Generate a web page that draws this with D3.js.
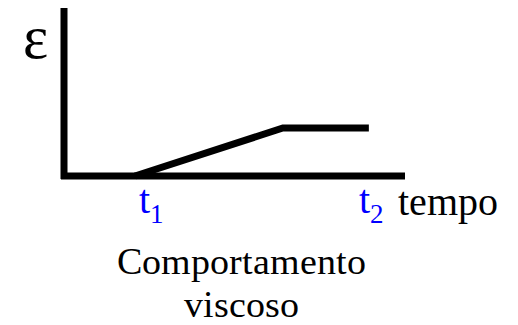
<!DOCTYPE html>
<html><head><meta charset="utf-8">
<script src="https://cdn.jsdelivr.net/npm/d3@7"></script>
<style>
@font-face{font-family:"ChartSerif";src:local("Liberation Serif"),local("LiberationSerif"),local("Times New Roman"),local("Tinos");}
</style>
</head><body style="margin:0">
<script>
// data
const timeValues = [2.08, 6.42, 8.94];
const strainValues = [0, 1, 1];
const tickValues = [2.2, 8.65];
const tickLabels = ["t", "t"];
const tickSubs = ["1", "2"];
const axisLabelX = "tempo";
const axisLabelY = "ε";
const titleLines = ["Comportamento", "viscoso"];

const FONT = '"ChartSerif", "Liberation Serif", "Times New Roman", serif';
const W = 518, H = 325;
const svg = d3.select("body").append("svg").attr("width", W).attr("height", H)
  .style("display", "block").style("font-family", FONT, "important");
const x = d3.scaleLinear().domain([0, 10]).range([64, 405]);
const y = d3.scaleLinear().domain([0, 3.5]).range([176, 8]);

// axes
svg.append("line").attr("x1", x(0)).attr("x2", x(0)).attr("y1", y(3.5)).attr("y2", y(0) + 3)
  .attr("stroke", "#000").attr("stroke-width", 7);
svg.append("line").attr("x1", x(0) - 3).attr("x2", x(10)).attr("y1", y(0)).attr("y2", y(0))
  .attr("stroke", "#000").attr("stroke-width", 7);

// curve
const pts = timeValues.map((t, i) => [t, strainValues[i]]);
svg.append("path").datum(pts)
  .attr("d", d3.line().x(d => x(d[0])).y(d => y(d[1])))
  .attr("fill", "none").attr("stroke", "#000").attr("stroke-width", 7).attr("stroke-linejoin", "miter");

function txt(sel) { return sel.style("font-family", FONT, "important"); }

// tick labels
tickValues.forEach((v, i) => {
  const t = txt(svg.append("text")).attr("x", x(v)).attr("y", 213).attr("fill", "#0000ff")
    .attr("font-size", 40);
  txt(t.append("tspan")).text(tickLabels[i]);
  txt(t.append("tspan")).attr("dy", 10).attr("font-size", 27).text(tickSubs[i]);
});

txt(svg.append("text")).attr("x", 398).attr("y", 215).attr("font-size", 40)
  .attr("fill", "#000").text(axisLabelX);
txt(svg.append("text")).attr("x", 23).attr("y", 58).attr("font-size", 60)
  .attr("fill", "#000").text(axisLabelY);

titleLines.forEach((s, i) => {
  txt(svg.append("text")).attr("x", 241).attr("y", 274 + i * 43).attr("text-anchor", "middle")
    .attr("font-size", 38).attr("fill", "#000").text(s);
});
</script>
</body></html>
